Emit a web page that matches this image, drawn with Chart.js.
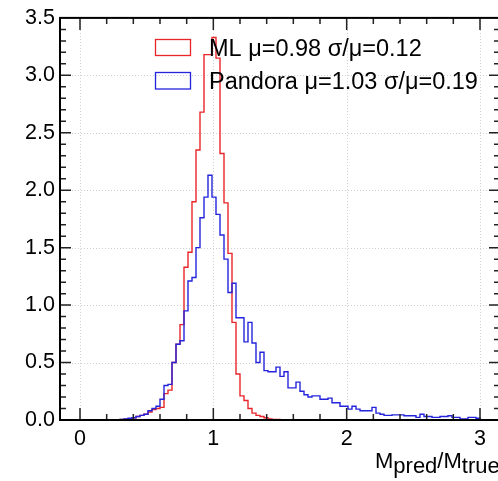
<!DOCTYPE html>
<html>
<head>
<meta charset="utf-8">
<script src="https://cdn.jsdelivr.net/npm/chart.js@4.4.0/dist/chart.umd.min.js"></script>
<style>
  html, body { margin: 0; padding: 0; background: #fff; overflow: hidden; }
  #wrap { width: 498px; height: 481px; overflow: hidden; }
  canvas { display: block; }
</style>
</head>
<body>
<div id="wrap"><canvas id="histChart" width="502" height="481"></canvas></div>
<script>
// histogram binning: 100 bins of 0.03 from 0 to 3
const binStart = 0;
const binWidth = 0.03;

// bin contents (normalised)
const mlValues = [
  0, 0, 0, 0, 0, 0, 0, 0, 0, 0,
  0.005, 0.008, 0.012, 0.02, 0.03, 0.04, 0.05, 0.07, 0.09, 0.10,
  0.11, 0.23, 0.26, 0.50, 0.66, 0.83, 1.33, 1.46, 1.90, 2.35,
  2.68, 3.18, 3.18, 3.33, 3.15, 2.32, 1.89, 1.45, 0.85, 0.40,
  0.21, 0.17, 0.10, 0.06, 0.04, 0.03, 0.02, 0.01, 0.005, 0.004,
  0.003, 0.002, 0.002, 0.001, 0.001, 0, 0, 0, 0, 0,
  0, 0, 0, 0, 0, 0, 0, 0, 0, 0,
  0, 0, 0, 0, 0, 0, 0, 0, 0, 0,
  0, 0, 0, 0, 0, 0, 0, 0, 0, 0,
  0, 0, 0, 0, 0, 0, 0, 0, 0, 0
];

const pandoraValues = [
  0, 0, 0, 0, 0, 0, 0, 0, 0, 0.003,
  0.005, 0.01, 0.015, 0.02, 0.03, 0.04, 0.05, 0.08, 0.10, 0.12,
  0.18, 0.30, 0.31, 0.50, 0.66, 0.69, 0.95, 1.21, 1.24, 1.50,
  1.76, 1.94, 2.13, 1.94, 1.79, 1.61, 1.40, 1.11, 1.19, 0.89,
  0.89, 0.68, 0.85, 0.67, 0.50, 0.59, 0.43, 0.42, 0.42, 0.46,
  0.38, 0.42, 0.28, 0.28, 0.33, 0.25, 0.22, 0.20, 0.21, 0.21,
  0.18, 0.18, 0.19, 0.15, 0.15, 0.12, 0.12, 0.095, 0.12, 0.095,
  0.08, 0.08, 0.08, 0.11, 0.06, 0.05, 0.04, 0.04, 0.045, 0.045,
  0.045, 0.037, 0.037, 0.037, 0.023, 0.05, 0.03, 0.03, 0.023, 0.023,
  0.03, 0.03, 0.037, 0.023, 0.023, 0.009, 0.009, 0.023, 0.023, 0.015
];

const seriesLabels = ["ML μ=0.98 σ/μ=0.12", "Pandora μ=1.03 σ/μ=0.19"];
const seriesColors = ["#e8262a", "#2424dc"];

const xMajorTicks = [0, 1, 2, 3];
const xMinorStep = 0.2;
const yMinorStep = 0.1;

const FONT = '"Liberation Sans", Arial, Helvetica, sans-serif';

// left bin edges -> points for a stepped outline
function histPoints(values) {
  const pts = values.map((v, i) => ({ x: binStart + i * binWidth, y: v }));
  pts.push({ x: binStart + values.length * binWidth, y: 0 });
  return pts;
}

const rootFrame = {
  id: "rootFrame",
  beforeDatasetsDraw(chart) {
    const { ctx, chartArea: a, scales: { x, y } } = chart;
    ctx.save();
    ctx.strokeStyle = "#cfcfcf";
    ctx.lineWidth = 1;
    ctx.setLineDash([1, 2]);
    xMajorTicks.forEach(v => {
      const px = Math.round(x.getPixelForValue(v)) + 0.5;
      ctx.beginPath(); ctx.moveTo(px, a.top); ctx.lineTo(px, a.bottom); ctx.stroke();
    });
    y.ticks.forEach(t => {
      if (t.value <= y.min || t.value >= y.max) return;
      const py = Math.round(y.getPixelForValue(t.value)) + 0.5;
      ctx.beginPath(); ctx.moveTo(a.left, py); ctx.lineTo(a.right, py); ctx.stroke();
    });
    ctx.restore();
  },
  afterDatasetsDraw(chart) {
    const { ctx, chartArea: a, scales: { x, y } } = chart;
    ctx.save();
    ctx.strokeStyle = "#222";
    ctx.lineWidth = 1.5;

    // x ticks, bottom and top, pointing inward
    for (let i = 0; xMinorStep * i <= 3.0001; i++) {
      const v = xMinorStep * i;
      const major = Math.abs(v - Math.round(v)) < 1e-6;
      const len = major ? 12 : 6;
      const px = x.getPixelForValue(v);
      ctx.beginPath();
      ctx.moveTo(px, a.bottom); ctx.lineTo(px, a.bottom - len);
      ctx.moveTo(px, a.top); ctx.lineTo(px, a.top + len);
      ctx.stroke();
    }
    // y ticks, left and right
    for (let i = 1; yMinorStep * i < 3.5 - 1e-6; i++) {
      const v = yMinorStep * i;
      const major = i % 5 === 0;
      const len = major ? 11 : 6;
      const py = y.getPixelForValue(v);
      ctx.beginPath();
      ctx.moveTo(a.left, py); ctx.lineTo(a.left + len, py);
      ctx.moveTo(a.right, py); ctx.lineTo(a.right - len, py);
      ctx.stroke();
    }

    // frame
    ctx.strokeStyle = "#000";
    ctx.lineWidth = 2;
    ctx.strokeRect(a.left, a.top, a.right - a.left, a.bottom - a.top);

    // legend
    const boxes = [[155.5, 39.5, 35, 16], [155.5, 72.5, 35, 16.5]];
    const baselines = [55.5, 89];
    ctx.lineWidth = 1.3;
    ctx.font = "23.5px " + FONT;
    ctx.fillStyle = "#000";
    ctx.textBaseline = "alphabetic";
    seriesLabels.forEach((lab, i) => {
      ctx.strokeStyle = seriesColors[i];
      ctx.strokeRect(...boxes[i]);
      ctx.fillText(lab, 209, baselines[i]);
    });

    // axis title M_pred / M_true
    const parts = [["M", 0], ["pred", 5], ["/M", 0], ["true", 5]];
    ctx.font = "22px " + FONT;
    let tx = 375;
    parts.forEach(([s, dy]) => {
      ctx.fillText(s, tx, 468 + dy);
      tx += ctx.measureText(s).width;
    });
    ctx.restore();
  }
};

const tickFont = { family: FONT, size: 21.5 };

new Chart(document.getElementById("histChart"), {
  type: "line",
  data: {
    datasets: [
      { label: seriesLabels[1], data: histPoints(pandoraValues), borderColor: seriesColors[1], order: 0 },
      { label: seriesLabels[0], data: histPoints(mlValues), borderColor: seriesColors[0], order: 1 }
    ]
  },
  options: {
    responsive: false,
    animation: false,
    devicePixelRatio: 1,
    datasets: {
      line: { stepped: "before", pointRadius: 0, borderWidth: 1.4, fill: false, tension: 0 }
    },
    layout: { padding: { top: 15, right: 2, left: 0, bottom: 0 } },
    plugins: { legend: { display: false }, tooltip: { enabled: false } },
    scales: {
      x: {
        type: "linear",
        min: -0.15,
        max: 3.15,
        grid: { display: false, drawTicks: false },
        border: { display: false },
        afterBuildTicks: s => { s.ticks = xMajorTicks.map(v => ({ value: v })); },
        afterFit: s => { s.height = 61; },
        ticks: { font: tickFont, color: "#000", padding: 6, maxRotation: 0, autoSkip: false,
                 callback: v => String(v) }
      },
      y: {
        min: 0,
        max: 3.5,
        grid: { display: false, drawTicks: false },
        border: { display: false },
        afterFit: s => { s.width = 60; },
        ticks: { font: tickFont, color: "#000", padding: 5, stepSize: 0.5,
                 callback: v => v.toFixed(1) }
      }
    }
  },
  plugins: [rootFrame]
});
</script>
</body>
</html>
